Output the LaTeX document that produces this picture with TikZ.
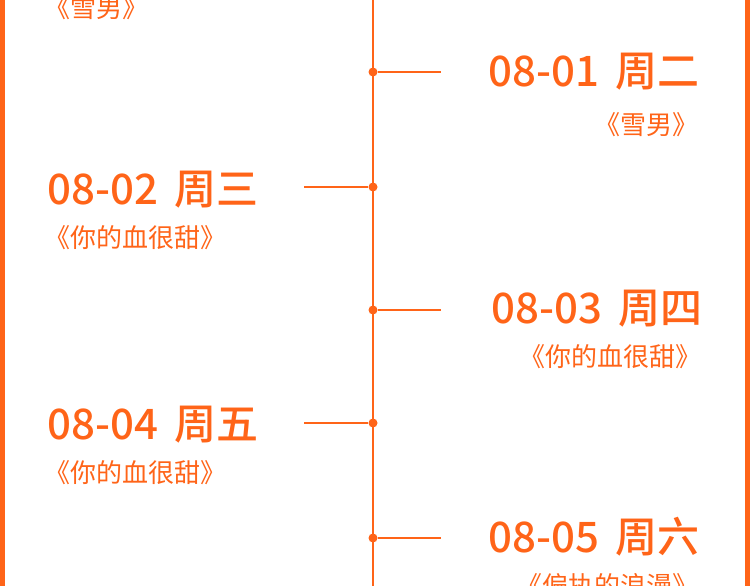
\documentclass[tikz,border=0pt]{standalone}
\usepackage{fontspec}
\newfontfamily\cjk{Noto Sans CJK SC}
\newfontfamily\cjkb{Noto Sans CJK SC Medium}
\definecolor{org}{HTML}{FF6418}
\begin{document}
\begin{tikzpicture}[x=1pt,y=-1pt,
  title/.style={text=org,font=\cjkb\fontsize{42}{46}\selectfont,inner sep=0pt},
  sub/.style={text=org,font=\cjk\fontsize{26}{28}\selectfont,inner sep=0pt},
  dotc/.style={circle,fill=org,minimum size=9pt,inner sep=0pt},
  ln/.style={draw=org,line width=1.4pt}]
\useasboundingbox (0,0) rectangle (750,586);
\fill[org] (0,0) rectangle (5,586);
\fill[org] (745,0) rectangle (750,586);
\coordinate (top) at (373,0);
\coordinate (bot) at (373,586);
\draw[ln] (top) -- (bot);
\node[dotc] (d1) at (373,72) {};
\node[dotc] (d2) at (373,187) {};
\node[dotc] (d3) at (373,310) {};
\node[dotc] (d4) at (373,423) {};
\node[dotc] (d5) at (373,538) {};
\coordinate (e1) at (441,72);
\coordinate (e2) at (304,187);
\coordinate (e3) at (441,310);
\coordinate (e4) at (304,423);
\coordinate (e5) at (441,538);
\foreach \i in {1,...,5} \draw[ln] (d\i) -- (e\i);
\node[sub,anchor=west] (s0) at (44,8) {《雪男》};
\node[title,anchor=east] (t1) at (700,72) {08-01\, 周二};
\node[sub,anchor=east] (s1) at (699,125) {《雪男》};
\node[title,anchor=west] (t2) at (47,190) {08-02\, 周三};
\node[sub,anchor=west] (s2) at (44,238) {《你的血很甜》};
\node[title,anchor=east] (t3) at (703,309) {08-03\, 周四};
\node[sub,anchor=east] (s3) at (702,357) {《你的血很甜》};
\node[title,anchor=west] (t4) at (47,425) {08-04\, 周五};
\node[sub,anchor=west] (s4) at (44,473) {《你的血很甜》};
\node[title,anchor=east] (t5) at (700,537) {08-05\, 周六};
\node[sub,anchor=east] (s5) at (699,586) {《偏执的浪漫》};
\end{tikzpicture}
\end{document}
